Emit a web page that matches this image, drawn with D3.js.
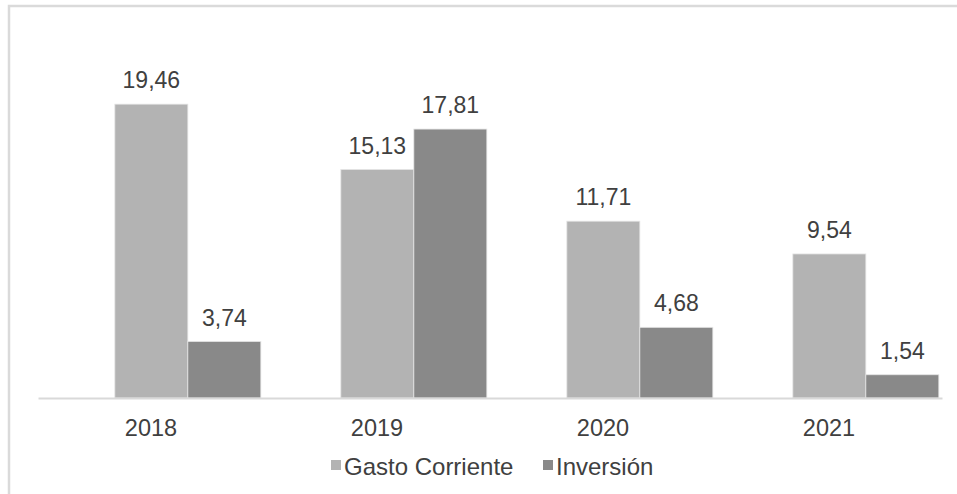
<!DOCTYPE html>
<html>
<head>
<meta charset="utf-8">
<script src="https://cdn.jsdelivr.net/npm/d3@7"></script>
<style>
  html, body { margin: 0; padding: 0; background: #fff; }
  svg { display: block; }
  text { font-family: "Liberation Sans", Arial, Helvetica, sans-serif; fill: #404040; }
</style>
</head>
<body>
<svg id="chart" width="957" height="494"></svg>
<script>
// ---- data ----
const years = ["2018", "2019", "2020", "2021"];
const seriesNames = ["Gasto Corriente", "Inversión"];
const gastoCorriente = [19.46, 15.13, 11.71, 9.54];
const inversion = [3.74, 17.81, 4.68, 1.54];
const seriesColors = ["#b3b3b3", "#898989"];

const seriesValues = [gastoCorriente, inversion];
const fmt = v => d3.format(".2f")(v).replace(".", ",");

const svg = d3.select("#chart");
const W = 957, H = 494;

// frame
svg.append("path")
  .attr("d", `M9,${H} L9,6 L${W},6`)
  .attr("fill", "none")
  .attr("stroke", "#dadada")
  .attr("stroke-width", 2.5);

const axisLeft = 38, axisRight = 942, baseY = 398, topY = 20.5;

const x0 = d3.scaleBand().domain(years).range([axisLeft, axisRight]).padding(0);
const bw = x0.bandwidth();
const x1 = d3.scaleBand().domain(seriesNames).range([bw * 0.34, bw * 0.986]).padding(0);
const y = d3.scaleLinear().domain([0, 25]).range([baseY, topY]);

// bars
const groups = svg.append("g").selectAll("g")
  .data(years)
  .join("g")
  .attr("transform", d => `translate(${x0(d)},0)`);

seriesNames.forEach((s, si) => {
  groups.append("rect")
    .attr("x", x1(s))
    .attr("width", x1.bandwidth())
    .attr("y", (d, i) => y(seriesValues[si][i]))
    .attr("height", (d, i) => y(0) - y(seriesValues[si][i]))
    .attr("fill", seriesColors[si])
    .attr("stroke", "#e4e4e4")
    .attr("stroke-width", 0.8);
  groups.append("text")
    .attr("x", x1(s) + x1.bandwidth() / 2)
    .attr("y", (d, i) => y(seriesValues[si][i]) - 16)
    .attr("text-anchor", "middle")
    .attr("font-size", 23)
    .text((d, i) => fmt(seriesValues[si][i]));
});

// x axis
const xAxis = d3.axisBottom(x0).tickSize(0).tickPadding(21);
const gx = svg.append("g").attr("transform", `translate(0,${baseY})`).call(xAxis);
gx.select(".domain").attr("stroke", "#d9d9d9").attr("stroke-width", 2);
gx.selectAll(".tick text")
  .attr("font-size", 23.5)
  .attr("font-family", "Liberation Sans, Arial, sans-serif")
  .attr("fill", "#404040")
  .attr("dy", "0.71em");

// legend
const legend = svg.append("g");
const legendX = [331, 543];
seriesNames.forEach((s, i) => {
  legend.append("rect")
    .attr("x", legendX[i]).attr("y", 460)
    .attr("width", 10).attr("height", 10)
    .attr("fill", seriesColors[i]);
  legend.append("text")
    .attr("x", legendX[i] + 13).attr("y", 475)
    .attr("font-size", 24)
    .text(s);
});
</script>
</body>
</html>
